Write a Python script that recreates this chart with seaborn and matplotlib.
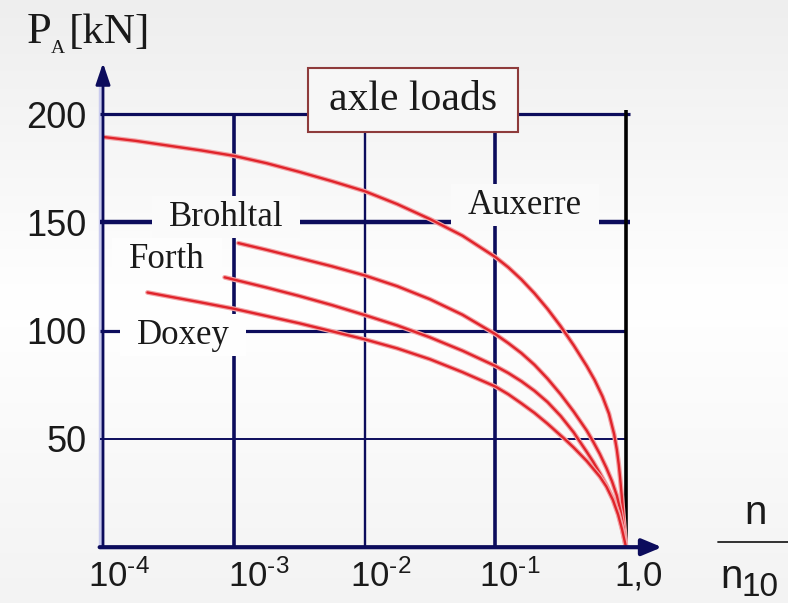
import numpy as np
import pandas as pd
import matplotlib
matplotlib.use("Agg")
import matplotlib.pyplot as plt
import seaborn as sns
import matplotlib.patheffects as pe
from matplotlib.path import Path
from matplotlib.lines import Line2D
from matplotlib.ticker import NullLocator
from matplotlib.transforms import ScaledTranslation

# ---------------- data ----------------
# x values are given as exponents of n/n10 (x = 10**exp)
auxerre_exp = [-4.0, -3.75, -3.5, -3.25, -3.0, -2.75, -2.5, -2.25, -2.0, -1.75, -1.5,
               -1.25, -1.0, -0.9, -0.8, -0.7, -0.6, -0.5, -0.4, -0.3, -0.24,
               -0.18, -0.13, -0.09, -0.07, -0.055, -0.045, -0.03, -0.015, 0.0]
auxerre_load = [189.4, 187.6, 185.4, 183.2, 180.7, 177.3, 173.3, 169.0, 164.4, 158.4, 151.5,
                143.8, 134.0, 129.2, 123.6, 117.2, 110.0, 102.0, 93.2, 83.6, 77.2,
                69.6, 61.6, 52.0, 45.0, 38.0, 32.0, 22.0, 11.0, 0.0]

brohltal_exp = [-2.965, -2.75, -2.5, -2.25, -2.0, -1.75, -1.5, -1.25, -1.0, -0.9, -0.8,
                -0.7, -0.6, -0.5, -0.4, -0.3, -0.25, -0.2, -0.15, -0.107, -0.07, -0.04,
                -0.018, 0.0]
brohltal_load = [140.4, 137.3, 133.5, 129.7, 125.5, 120.5, 114.5, 107.3, 98.4, 94.2, 89.6,
                 84.2, 77.8, 70.6, 62.6, 53.8, 48.6, 43.0, 36.6, 30.4, 23.8, 16.2,
                 8.5, 0.0]

forth_exp = [-3.07, -2.75, -2.5, -2.25, -2.0, -1.75, -1.5, -1.25, -1.0, -0.9, -0.8, -0.7,
             -0.6, -0.5, -0.4, -0.367, -0.3, -0.25, -0.2, -0.15, -0.1, -0.06, -0.03, 0.0]
forth_load = [124.6, 119.9, 116.0, 111.8, 107.2, 102.4, 96.9, 90.7, 83.7, 80.4, 76.6, 72.2,
              67.0, 60.6, 53.0, 50.0, 44.0, 39.3, 34.2, 28.6, 22.4, 15.8, 8.8, 0.0]

doxey_exp = [-3.66, -3.5, -3.25, -3.0, -2.5, -2.0, -1.75, -1.5, -1.25, -1.0, -0.9, -0.8,
             -0.7, -0.6, -0.5, -0.47, -0.4, -0.3, -0.2, -0.15, -0.1, -0.06, -0.03, 0.0]
doxey_load = [117.6, 115.8, 113.0, 110.1, 103.4, 96.0, 91.8, 86.8, 80.8, 74.2, 70.6, 66.4,
              62.0, 57.0, 51.6, 50.0, 46.0, 39.8, 32.6, 28.0, 21.8, 15.0, 8.2, 0.0]

series_names = ["Auxerre", "Brohltal", "Forth", "Doxey"]
y_ticks = [50, 100, 150, 200]
x_tick_exp = [-4, -3, -2, -1, 0]
x_tick_labels = ["$\\mathregular{10^{\u20104}}$", "$\\mathregular{10^{\u20103}}$",
                 "$\\mathregular{10^{\u20102}}$", "$\\mathregular{10^{\u20101}}$", "1,0"]

# ---------------- style ----------------
sns.set_theme(style="white")
plt.rcParams["font.family"] = ["Liberation Sans", "DejaVu Sans"]
plt.rcParams["mathtext.fontset"] = "custom"
plt.rcParams["mathtext.rm"] = "Liberation Sans"
plt.rcParams["mathtext.it"] = "Liberation Sans:italic"
plt.rcParams["mathtext.bf"] = "Liberation Sans:bold"

NAVY = "#0c0c5c"
RED = "#e0242b"
W, H = 788, 603
PX_DEC = 130.75          # pixels per decade
PX_UNIT = 2.166          # pixels per kN


def bg_level(py):
    """grey level of the page gradient at pixel row py"""
    return float(np.interp(py / H, [0, 0.5, 1], [238 / 255, 1.0, 243 / 255]))


fig = plt.figure(figsize=(W / 100, H / 100), dpi=100)

# background gradient (one image row per pixel row)
bg = fig.add_axes([0, 0, 1, 1], zorder=-10)
g = np.array([bg_level(r) for r in range(H)])
rgb = np.repeat(np.repeat(g[:, None, None], 3, axis=2), 4, axis=1)
bg.imshow(rgb, aspect="auto", extent=[0, 1, 0, 1], interpolation="nearest")
bg.set_xlim(0, 1)
bg.set_ylim(0, 1)
bg.set_axis_off()

left_px, bottom_px, right_px, top_px = 103, 547.2, 662, 63
ax = fig.add_axes([left_px / W, 1 - bottom_px / H, (right_px - left_px) / W,
                   (bottom_px - top_px) / H])
ax.set_facecolor("none")
ax.set_xscale("log")
ax.set_xlim(1e-4, 10 ** ((right_px - 626) / PX_DEC))
ax.set_ylim(0, (bottom_px - top_px) / PX_UNIT)
for s in ax.spines.values():
    s.set_visible(False)

# ---------------- curves ----------------
frames = []
for name, ex, ld in zip(series_names,
                        [auxerre_exp, brohltal_exp, forth_exp, doxey_exp],
                        [auxerre_load, brohltal_load, forth_load, doxey_load]):
    frames.append(pd.DataFrame({"ratio": 10.0 ** np.array(ex), "load": ld, "series": name}))
df = pd.concat(frames, ignore_index=True)

sns.lineplot(data=df, x="ratio", y="load", hue="series",
             palette={n: RED for n in series_names}, estimator=None, sort=False,
             legend=False, linewidth=1.7, ax=ax, zorder=3,
             path_effects=[pe.Stroke(linewidth=3.4, foreground="#f3a2a5"), pe.Normal()])
ax.set_xlabel("")
ax.set_ylabel("")

# ---------------- grid lines ----------------
h_width = {50: 1.4, 100: 2.3, 150: 3.2, 200: 2.3}
h_right = {50: 1.0, 100: 1.0, 150: 10 ** (4 / PX_DEC), 200: 10 ** (4 / PX_DEC)}
for v in y_ticks:
    ax.hlines(v, 10 ** (-4 - 3 / PX_DEC), h_right[v], color=NAVY, lw=h_width[v],
              zorder=1, clip_on=False)
v_width = {-3: 2.6, -2: 1.7, -1: 2.6}
for e in x_tick_exp[1:-1]:
    ax.vlines(10.0 ** e, 0, 200, color=NAVY, lw=v_width[e], zorder=1)
ax.vlines(1.0, 0, 202, color="black", lw=2.6, zorder=1)

# axes with arrows
off = ScaledTranslation(-3.5 / 100, 0, fig.dpi_scale_trans)
ax.plot([0, 0], [0, 0.95], transform=ax.transAxes + off, color="#c9cbee", lw=2.5,
        clip_on=False, zorder=0.5)
ax.annotate("", xy=(0, 1), xytext=(0, 0), xycoords="axes fraction",
            textcoords="axes fraction", annotation_clip=False, zorder=6,
            arrowprops=dict(arrowstyle="-|>,head_length=0.65,head_width=0.22", color=NAVY,
                            lw=2.0, shrinkA=0, shrinkB=0, mutation_scale=20))
ax.annotate("", xy=(1, 0), xytext=(-0.006, 0), xycoords="axes fraction",
            textcoords="axes fraction", annotation_clip=False, zorder=6,
            arrowprops=dict(arrowstyle="-|>,head_length=0.6,head_width=0.25", color=NAVY,
                            lw=3.0, shrinkA=0, shrinkB=0, mutation_scale=20))

# ---------------- ticks ----------------
ax.set_yticks(y_ticks)
ax.set_yticklabels([str(v) for v in y_ticks], fontsize=26, color="#1a1a1a")
ax.set_xticks([10.0 ** e for e in x_tick_exp])
ax.set_xticklabels(x_tick_labels, fontsize=25, color="#1a1a1a")
ax.xaxis.set_minor_locator(NullLocator())
ax.tick_params(axis="y", length=0, pad=12)
ax.tick_params(axis="x", length=0, pad=9)
x_label_shift = [16, 25, 16, 14, 13]
for lab, sh in zip(ax.get_xticklabels(), x_label_shift):
    lab.set_transform(lab.get_transform() + ScaledTranslation(sh / 100, 0, fig.dpi_scale_trans))


# ---------------- labels ----------------
def pad_box(padx, pady):
    def style(x0, y0, width, height, mutation_size):
        return Path([(x0 - padx, y0 - pady), (x0 + width + padx, y0 - pady),
                     (x0 + width + padx, y0 + height + pady), (x0 - padx, y0 + height + pady),
                     (x0 - padx, y0 - pady)], closed=True)
    return style


def px_to_data(px, py):
    return 10 ** (-4 + (px - left_px) / PX_DEC), (bottom_px - py) / PX_UNIT


label_pos = {"Brohltal": (226, 217), "Auxerre": (525, 205), "Doxey": (183, 335),
             "Forth": (167, 259)}
for name in series_names:
    px, py = label_pos[name]
    x, y = px_to_data(px, py)
    lvl = bg_level(py)
    ax.text(x, y, name, ha="center", va="center", fontsize=25, family="Liberation Serif",
            color="#1a1a1a", zorder=4,
            bbox=dict(boxstyle=pad_box(17, 4.5), fc=(lvl, lvl, lvl), ec="none"))

lvl = min(1.0, bg_level(100) + 0.015)
fig.text(413 / W, 1 - 100 / H, "axle loads", ha="center", va="center", fontsize=30,
         family="Liberation Serif", color="#1a1a1a", zorder=7,
         bbox=dict(boxstyle=pad_box(21, 13), fc=(lvl, lvl, lvl), ec="#8e3b3b", lw=1.5))

# y axis title  P_A[kN]
fig.text(27 / W, 1 - 43 / H, "P", ha="left", va="baseline", fontsize=32,
         family="Liberation Serif", color="#1a1a1a")
fig.text(51 / W, 1 - 53 / H, "A", ha="left", va="baseline", fontsize=14,
         family="Liberation Serif", color="#1a1a1a")
fig.text(69 / W, 1 - 43 / H, "[kN]", ha="left", va="baseline", fontsize=31,
         family="Liberation Serif", color="#1a1a1a")

# x axis title  n / n10
fig.text(756 / W, 1 - 524 / H, "n", ha="center", va="baseline", fontsize=29, color="#1a1a1a")
fig.add_artist(Line2D([718 / W, 1.0], [1 - 541.5 / H] * 2, transform=fig.transFigure,
                      color="#222222", lw=1.3))
fig.text(720 / W, 1 - 588 / H, "n", ha="left", va="baseline", fontsize=29, color="#1a1a1a")
fig.text(741 / W, 1 - 596 / H, "10", ha="left", va="baseline", fontsize=24, color="#1a1a1a")

fig.savefig("out.png", dpi=100)
